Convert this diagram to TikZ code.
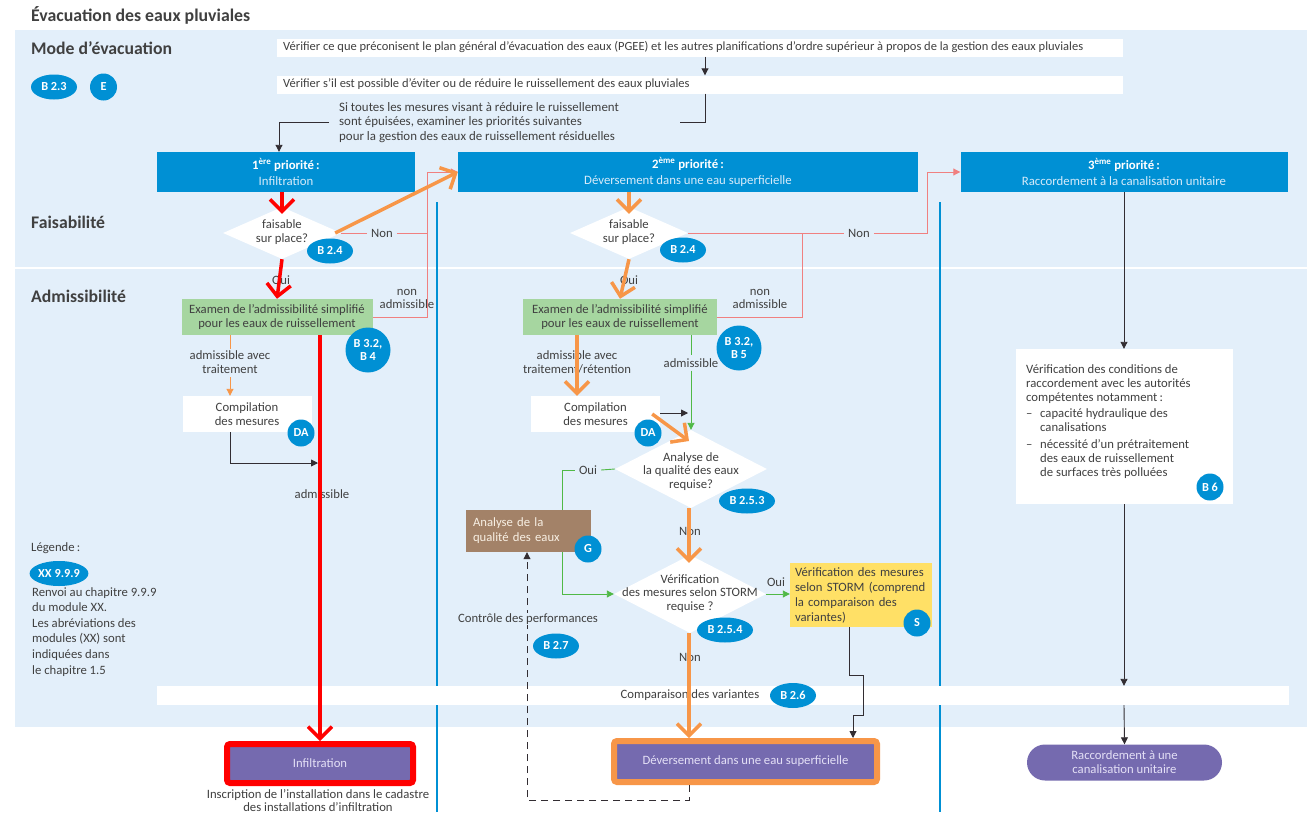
\documentclass[tikz,border=0pt]{standalone}
\usepackage{fontspec}
\setmainfont{Carlito}
\usetikzlibrary{arrows.meta,shapes.geometric}
\definecolor{bgblue}{RGB}{227,239,250}
\definecolor{pblue}{RGB}{0,144,212}
\definecolor{txtgray}{RGB}{64,64,64}
\definecolor{pgreen}{RGB}{166,214,160}
\definecolor{lgreen}{RGB}{80,185,70}
\definecolor{pinkc}{RGB}{240,128,128}
\definecolor{orng}{RGB}{247,150,72}
\definecolor{purp}{RGB}{117,106,175}
\definecolor{lav}{RGB}{228,224,246}
\definecolor{brwn}{RGB}{163,130,104}
\definecolor{cream}{RGB}{248,240,228}
\definecolor{yel}{RGB}{255,224,102}
\definecolor{dark}{RGB}{50,45,50}
\definecolor{redh}{RGB}{255,0,0}
\definecolor{prio2}{RGB}{215,235,250}
\newcommand{\bodyf}{\fontsize{12.7}{14}\selectfont}
\begin{document}
\begin{tikzpicture}[x=1pt,y=-1pt,
  txt/.style={text=txtgray,font=\bodyf,inner sep=0pt,align=center},
  lbl/.style={txt,fill=bgblue,inner xsep=4pt,inner ysep=1pt},
  heading/.style={text=txtgray,font=\bfseries\fontsize{17.7}{20}\selectfont,inner sep=0pt,anchor=west},
  ref/.style={ellipse,fill=pblue,text=white,font=\bfseries\fontsize{12.3}{13}\selectfont,inner sep=0pt,minimum width=46pt,minimum height=25pt},
  refc/.style={circle,fill=pblue,text=white,font=\bfseries\fontsize{12.3}{13.5}\selectfont,inner sep=0pt,minimum size=27pt,align=center},
  wline/.style={anchor=west,fill=white,minimum width=846pt,minimum height=18pt,inner sep=0pt},
  wtext/.style={anchor=west,text=txtgray,font=\fontsize{12.5}{14}\selectfont,inner sep=0pt},
  prio/.style={fill=pblue,text=white,minimum height=40pt,inner sep=0pt,align=center,font=\fontsize{12.8}{16}\selectfont},
  wbox/.style={fill=white,text=txtgray,font=\bodyf,inner sep=0pt,align=center},
  gbox/.style={fill=pgreen,text=txtgray,font=\bodyf,inner sep=0pt,align=center,minimum height=36pt},
  dia/.style={diamond,fill=white,inner sep=0pt},
  endbox/.style={fill=purp,text=lav,line width=6pt,rounded corners=3pt,inner sep=0pt,font=\bodyf},
  redarr/.style={draw=redh,line width=3.5pt,-{Straight Barb[length=12pt,width=24pt]}},
  orarr/.style={draw=orng,line width=3.5pt,-{Straight Barb[length=12pt,width=24pt]}},
  orthin/.style={draw=orng,line width=0.9pt},
  pinkl/.style={draw=pinkc,line width=0.9pt},
  greenl/.style={draw=lgreen,line width=0.9pt},
  darkl/.style={draw=dark,line width=0.9pt},
  ahead/.style={-{Triangle[length=7pt,width=7pt]}}
]
\useasboundingbox (0,0) rectangle (1307,814);
\fill[white] (0,0) rectangle (1307,814);
\fill[bgblue] (15,30) rectangle (1307,727);
\draw[white,line width=2pt] (15,268) -- (1307,268);
\draw[pblue,line width=1.5pt] (437,202) -- (437,812);
\draw[pblue,line width=1.5pt] (940,202) -- (940,812);

% headings
\node[text=txtgray,font=\bfseries\fontsize{17.8}{20}\selectfont,inner sep=0pt,anchor=west] (title) at (31,15) {Évacuation des eaux pluviales};
\node[heading] (mode) at (31,48) {Mode d’évacuation};
\node[heading] (fais) at (31,222) {Faisabilité};
\node[heading] (admh) at (31,296) {Admissibilité};
\node[ref] (r23) at (54,87) {B 2.3};
\node[refc] (rE) at (103.5,87) {E};

% top boxes
\node[wline] (v1) at (277,47.5) {};
\node[wtext] (v1t) at (283,47.5) {Vérifier ce que préconisent le plan général d’évacuation des eaux (PGEE) et les autres planifications d’ordre supérieur à propos de la gestion des eaux pluviales};
\node[wline] (v2) at (277,84.5) {};
\node[wtext] (v2t) at (283,84.5) {Vérifier s’il est possible d’éviter ou de réduire le ruissellement des eaux pluviales};
\coordinate (xA) at (705,0);
\draw[darkl,ahead] (v1.south -| xA) -- (v2.north -| xA);
\node[txt,anchor=west,align=left,font=\fontsize{12.9}{14.8}\selectfont] (si) at (339,122.5) {Si toutes les mesures visant à réduire le ruissellement\\sont épuisées, examiner les priorités suivantes\\pour la gestion des eaux de ruissellement résiduelles};
\coordinate (k1) at (680,122.5);
\draw[darkl] (v2.south -| xA) |- (k1);

% comparison band
\node[wbox,minimum width=1132pt,minimum height=19pt] (cmp) at (723,695.5) {};
\node[txt] (cmptxt) at (690,695.5) {Comparaison des variantes};
\node[ref] (r26) at (793,695.5) {B 2.6};

% priority boxes
\node[prio,minimum width=258pt] (p1) at (286,172) {\textbf{1\textsuperscript{ère} priorité\,:}\\\textcolor{prio2}{Infiltration}};
\node[prio,minimum width=460pt] (p2) at (688,172) {\textbf{2\textsuperscript{ème} priorité\,:}\\\textcolor{prio2}{Déversement dans une eau superficielle}};
\node[prio,minimum width=327pt] (p3) at (1124,172) {\textbf{3\textsuperscript{ème} priorité\,:}\\\textcolor{prio2}{Raccordement à la canalisation unitaire}};
\coordinate (k2) at (329,122.5);
\coordinate (xB) at (279,0);
\draw[darkl,ahead] (k2) -| (xB |- p1.north);

% ---------- column 1
\node[dia,minimum width=118pt,minimum height=52pt] (d1) at (282,233) {};
\node[txt] (d1t) at (282,232) {faisable\\sur place?};
\node[ref] (r24a) at (330,251) {B 2.4};
\node[lbl] (non1) at (382,233) {Non};
\node[txt] (oui1) at (281,280) {Oui};
\node[gbox,minimum width=191pt] (g1) at (277,317) {Examen de l’admissibilité simplifié\\pour les eaux de ruissellement};
\node[txt,font=\fontsize{12.7}{12.5}\selectfont] (na1) at (407,299) {non\\admissible};
\node[refc,minimum size=45pt] (r32a) at (368,350) {B 3.2,\\B 4};
\coordinate (j1) at (427,233);
\draw[pinkl] (d1.east) -- (non1.west);
\draw[pinkl] (non1.east) -- (j1) -- (j1 |- p2.west);
\draw[pinkl] (g1.east) -| (j1);
\draw[pinkl,ahead] (j1 |- p2.west) -- (p2.west);
\draw[redarr] (p1.south -| d1) -- ([yshift=-7pt]d1.north);
\draw[orarr] ([xshift=-6pt]d1.east) -- (p2.west);
\draw[redarr] (d1.south) -- (g1.north);

\coordinate (xC) at (230,0);
\node[txt] (lab1) at (230,362.5) {admissible avec\\traitement};
\node[wbox,minimum width=129pt,minimum height=36pt] (c1) at (247,414) {Compilation\\des mesures};
\node[refc] (da1) at (301,433) {DA};
\draw[orthin] (g1.south -| xC) -- ([yshift=2pt]lab1.north -| xC);
\draw[orthin,ahead] ([yshift=-3pt]lab1.south -| xC) -- (c1.north -| xC);
\coordinate (m1) at (318,463);
\draw[darkl,ahead] (c1.south -| xC) |- (m1);
\node[txt] (adm1) at (322,494) {admissible};
\node[endbox,draw=redh,minimum width=186pt,minimum height=39pt] (inf) at (320,763.5) {Infiltration};
\coordinate (xD) at (320,0);
\draw[redarr] (g1.south -| xD) -- (inf.north -| xD);
\node[txt,font=\fontsize{12.7}{13.5}\selectfont] (insc) at (318,800.5) {Inscription de l’installation dans le cadastre\\des installations d’infiltration};

% ---------- column 2
\node[dia,minimum width=118pt,minimum height=52pt] (d2) at (629,233) {};
\node[txt] (d2t) at (629,232) {faisable\\sur place?};
\node[ref] (r24b) at (683,250) {B 2.4};
\node[lbl] (non2) at (859,233) {Non};
\node[txt] (oui2) at (629,280) {Oui};
\node[gbox,minimum width=194pt] (g2) at (620,317) {Examen de l’admissibilité simplifié\\pour les eaux de ruissellement};
\node[txt,font=\fontsize{12.7}{12.5}\selectfont] (na2) at (760,299) {non\\admissible};
\node[refc,minimum size=45pt] (r32b) at (739,348) {B 3.2,\\B 5};
\coordinate (j2) at (802,233);
\coordinate (j3) at (927,233);
\draw[pinkl] (d2.east) -- (non2.west);
\draw[pinkl] (g2.east) -| (j2);
\draw[pinkl] (non2.east) -- (j3) -- (j3 |- p3.west);
\draw[pinkl,ahead] (j3 |- p3.west) -- (p3.west);
\draw[orarr] (p2.south -| d2) -- ([yshift=-7pt]d2.north);
\draw[orarr] (d2.south) -- (g2.north);

\coordinate (xE) at (577,0);
\coordinate (xF) at (691,0);
\node[txt] (lab2) at (577,362.5) {admissible avec\\traitement/rétention};
\node[wbox,minimum width=129pt,minimum height=36pt] (c2) at (595.5,414) {Compilation\\des mesures};
\node[refc] (da2) at (648,433) {DA};
\node[txt] (adm2) at (691,363) {admissible};
\node[dia,minimum width=152pt,minimum height=78pt] (d3) at (691,469) {};
\node[txt,font=\fontsize{12.7}{13.8}\selectfont] (d3t) at (691,471.5) {Analyse de\\la qualité des eaux\\requise?};
\node[ref,minimum width=56pt] (r253) at (747,501) {B 2.5.3};
\draw[greenl] (g2.south -| xF) -- ([yshift=3pt]adm2.north -| xF);
\draw[greenl,ahead] ([yshift=-3pt]adm2.south -| xF) -- (d3.north -| xF);
\draw[orarr] (g2.south -| xE) -- (c2.north -| xE);
\coordinate (m2) at (688,413);
\draw[darkl,ahead] (c2.east |- m2) -- (m2);
\coordinate (m3) at (689,441);
\draw[orarr] ([xshift=-8pt]c2.east) -- (m3);

\node[lbl] (oui3) at (588,470) {Oui};
\node[fill=brwn,text=cream,inner xsep=7pt,inner ysep=0pt,text width=111pt,align=left,minimum height=42pt,font=\fontsize{12.7}{15}\selectfont] (an) at (528.5,531) {Analyse de la\\qualité des eaux};
\node[refc] (rG) at (588,549) {G};
\coordinate (xG) at (562,0);
\draw[greenl] (d3.west) -- (oui3.east);
\draw[greenl] (oui3.west) -| (an.north -| xG);

\node[dia,minimum width=152pt,minimum height=78pt] (d4) at (690,594) {};
\node[txt,font=\fontsize{12.7}{13.8}\selectfont] (d4t) at (690,593.5) {Vérification\\des mesures selon STORM\\requise ?};
\node[ref,minimum width=56pt] (r254) at (725,630) {B 2.5.4};
\draw[greenl,ahead] (an.south -| xG) |- (d4.west);
\coordinate (xH) at (689,0);
\node[txt] (non3) at (690,531) {Non};
\draw[orarr] (d3.south -| xH) -- ([yshift=-8pt]d4.north -| xH);

\node[txt] (oui4) at (776,582) {Oui};
\node[fill=yel,text=txtgray,inner xsep=5pt,inner ysep=0pt,text width=132pt,align=left,minimum height=64pt,font=\fontsize{12.7}{15}\selectfont] (yb) at (861,595) {Vérification des mesures\\selon STORM (comprend\\la comparaison des\\variantes)};
\node[refc] (rS) at (917,623) {S};
\draw[greenl,ahead] (d4.east) -- (yb.west |- d4.east);

\node[txt] (non4) at (690,657) {Non};
\node[endbox,draw=orng,minimum width=263pt,minimum height=41pt] (dev) at (745.5,761.5) {Déversement dans une eau superficielle};
\draw[orarr] (d4.south -| xH) -- (dev.north -| xH);
\coordinate (xI) at (849,0);
\coordinate (q1) at (863,675);
\coordinate (q2) at (853,715);
\draw[darkl,ahead] (yb.south -| xI) |- (q1) |- (q2) -- (q2 |- dev.north);

\coordinate (dz) at (527,800);
\draw[darkl,dash pattern=on 7pt off 5pt,ahead] (dev.south -| xH) |- (dz) -- (an.south -| dz);
\node[lbl] (ctrl) at (528,619) {Contrôle des performances};
\node[ref] (r27) at (556,646) {B 2.7};

% ---------- column 3
\node[wbox,minimum width=217pt,minimum height=155pt] (w3) at (1124,426.5) {};
\node[txt,anchor=north west,align=left,font=\fontsize{12.7}{14}\selectfont] (w3t) at (1026,364) {Vérification des conditions de\\raccordement avec les autorités\\compétentes notamment\,:\\[2.5pt]\makebox[14pt][l]{–}capacité hydraulique des\\\hspace*{14pt}canalisations\\[2.5pt]\makebox[14pt][l]{–}nécessité d’un prétraitement\\\hspace*{14pt}des eaux de ruissellement\\\hspace*{14pt}de surfaces très polluées};
\node[refc] (rB6) at (1210,487) {B 6};
\draw[darkl,ahead] (p3.south) -- (w3.north);
\draw[darkl,ahead] (w3.south) -- (cmp.north -| w3.south);
\node[fill=purp,text=lav,rounded corners=18pt,minimum width=195pt,minimum height=36pt,inner sep=0pt,align=center,font=\bodyf] (rac) at (1124.5,762.5) {Raccordement à une\\canalisation unitaire};
\draw[darkl,ahead] (cmp.south -| w3.south) -- (rac.north);

% legend
\node[txt,anchor=west] (leg) at (31,548) {Légende\,:};
\node[ref,minimum width=58pt] (rXX) at (59,573.5) {XX 9.9.9};
\node[txt,anchor=north west,align=left,font=\fontsize{12.7}{15.6}\selectfont] (legt) at (32,587) {Renvoi au chapitre 9.9.9\\du module XX.\\Les abréviations des\\modules (XX) sont\\indiquées dans\\le chapitre 1.5};
\end{tikzpicture}
\end{document}
